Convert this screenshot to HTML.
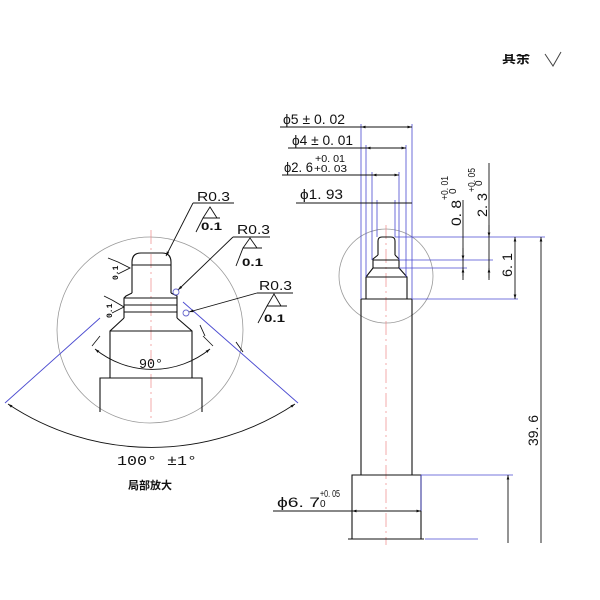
<!DOCTYPE html>
<html><head><meta charset="utf-8"><style>
html,body{margin:0;padding:0;background:#fff;}
svg{display:block;}
text{font-family:"Liberation Sans","Noto Sans CJK SC",sans-serif;fill:#111;}
.m{font-family:"Liberation Mono","Noto Sans CJK SC",monospace;}
</style></head><body>
<svg width="600" height="600" viewBox="0 0 600 600" xmlns="http://www.w3.org/2000/svg">
<defs>
<marker id="a" viewBox="0 0 10 10" refX="10" refY="5" markerWidth="7" markerHeight="5" orient="auto-start-reverse"><path d="M0,2 L10,5 L0,8 z" fill="#111"/></marker>
</defs>
<rect width="600" height="600" fill="#fff"/>
<text x="502" y="63" font-size="14" font-weight="bold">其余</text>
<rect x="495" y="40" width="50" height="14" fill="#fff"/>
<path d="M545,54 L553,66 L561,52" fill="none" stroke="#444" stroke-width="1"/>

<!-- LEFT detail -->
<circle cx="150" cy="330" r="93" fill="none" stroke="#999" stroke-width="0.8"/>
<line x1="151" y1="230" x2="151" y2="420" stroke="#e88" stroke-width="0.7" stroke-dasharray="14,4,2,4"/>
<g fill="none" stroke="#111" stroke-width="1.1">
<path d="M132,293 L132,262 Q132,253 141,253 L162,253 Q171,253 171,262 L171,293"/>
<line x1="132" y1="265" x2="171" y2="265"/>
<path d="M132,293 L126,296 L124,298 L124,318 M171,293 L177,296 L177,318"/>
<line x1="124" y1="298" x2="177" y2="298"/>
<line x1="124" y1="305" x2="177" y2="305"/>
<line x1="124" y1="312" x2="177" y2="312"/>
<path d="M124,318 L110,331 L110,378 M177,318 L192,331 L192,378"/>
<line x1="110" y1="331" x2="192" y2="331"/>
<path d="M100,412 L100,378 L202,378 L202,412"/>
</g>
<g stroke="#4a4ad0" stroke-width="0.9">
<line x1="100" y1="318" x2="5" y2="403"/>
<line x1="183" y1="302" x2="298" y2="403"/>
</g>
<path d="M8,404 A259,259 0 0 0 295,404" fill="none" stroke="#111" stroke-width="0.9" marker-start="url(#a)" marker-end="url(#a)"/>
<path d="M95,349 A91,91 0 0 0 210,349" fill="none" stroke="#111" stroke-width="0.9" marker-start="url(#a)" marker-end="url(#a)"/>
<line x1="92" y1="346" x2="100" y2="336" stroke="#111" stroke-width="0.8"/>
<line x1="213" y1="346" x2="203" y2="336" stroke="#111" stroke-width="0.8"/>
<text x="139" y="368" font-size="14" class="m" textLength="24" lengthAdjust="spacingAndGlyphs">90°</text>
<text x="117" y="465" font-size="14" class="m" textLength="80" lengthAdjust="spacingAndGlyphs">100°  ±1°</text>
<text x="150" y="489" font-size="11" font-weight="bold" text-anchor="middle">局部放大</text>
<g stroke="#111" stroke-width="0.9" fill="none">
<line x1="193" y1="203" x2="234" y2="203"/><line x1="193" y1="203" x2="166" y2="256" marker-end="url(#a)"/>
<path d="M203,218 L210,207 L217,218 M196,232 L203,218 L220,218"/>
<line x1="233" y1="237" x2="270" y2="237"/><line x1="233" y1="237" x2="178" y2="290" marker-end="url(#a)"/>
<path d="M243,248 L250,238 L257,248 M236,266 L243,248 L262,248"/>
<line x1="257" y1="293" x2="293" y2="293"/><line x1="257" y1="293" x2="189" y2="312" marker-end="url(#a)"/>
<path d="M267,306 L274,294 L281,306 M258,323 L267,306 L287,306"/>
<circle cx="176" cy="292" r="3" stroke="#66c"/><circle cx="186" cy="313" r="3" stroke="#66c"/>
<path d="M118,262 L130,268 L118,274 M108,258 L118,262"/>
<path d="M112,300 L124,307 L112,313 M104,296 L112,300"/>
<path d="M200,325 L205,336 M236,342 L243,352"/>
</g>
<g class="m" font-size="13">
<text x="197" y="201" textLength="33" lengthAdjust="spacingAndGlyphs">R0.3</text>
<text x="201" y="230" font-size="11" font-weight="bold" textLength="21" lengthAdjust="spacingAndGlyphs">0.1</text>
<text x="237" y="234" textLength="33" lengthAdjust="spacingAndGlyphs">R0.3</text>
<text x="242" y="266" font-size="11" font-weight="bold" textLength="21" lengthAdjust="spacingAndGlyphs">0.1</text>
<text x="259" y="290" textLength="33" lengthAdjust="spacingAndGlyphs">R0.3</text>
<text x="264" y="322" font-size="11" font-weight="bold" textLength="21" lengthAdjust="spacingAndGlyphs">0.1</text>
</g>
<text x="0" y="0" font-size="8" font-weight="bold" transform="translate(118,280) rotate(-90)" class="m">0.1</text>
<text x="0" y="0" font-size="8" font-weight="bold" transform="translate(112,318) rotate(-90)" class="m">0.1</text>

<!-- RIGHT part -->
<circle cx="386" cy="276" r="47" fill="none" stroke="#999" stroke-width="0.8"/>
<line x1="386" y1="225" x2="386" y2="545" stroke="#e88" stroke-width="0.7" stroke-dasharray="14,4,2,4"/>
<g fill="none" stroke="#111" stroke-width="1.1">
<path d="M378,255 L378,241 Q378,237 382,237 L391,237 Q395,237 395,241 L395,255"/>
<path d="M378,255 L373,259 L373,268 M395,255 L399,259 L399,268"/>
<line x1="373" y1="260" x2="399" y2="260"/><line x1="373" y1="268" x2="399" y2="268"/>
<path d="M373,268 L366,277 L366,299 M399,268 L407,277 L407,299"/>
<line x1="366" y1="277" x2="407" y2="277"/>
<path d="M361,299 L361,475 M412,299 L412,475"/><line x1="361" y1="299" x2="412" y2="299"/>
<path d="M352,539 L352,475 L421,475 L421,539"/>
<line x1="348" y1="539" x2="424" y2="539"/>
</g>
<g stroke="#4a4ad0" stroke-width="0.8">
<line x1="361" y1="124" x2="361" y2="299"/><line x1="412" y1="124" x2="412" y2="299"/>
<line x1="366" y1="145" x2="366" y2="277"/><line x1="406" y1="145" x2="406" y2="277"/>
<line x1="372" y1="172" x2="372" y2="260"/><line x1="399" y1="172" x2="399" y2="260"/>
<line x1="377" y1="200" x2="377" y2="237"/><line x1="395" y1="200" x2="395" y2="237"/>
<line x1="395" y1="237" x2="545" y2="237"/>
<line x1="399" y1="260" x2="493" y2="260"/>
<line x1="399" y1="268" x2="467" y2="268"/>
<line x1="412" y1="299" x2="518" y2="299"/>
<line x1="421" y1="475" x2="513" y2="475"/>
<line x1="421" y1="511" x2="421" y2="475"/>
<line x1="425" y1="539" x2="478" y2="539"/>
</g>
<g stroke="#111" stroke-width="0.9" fill="none">
<line x1="280" y1="127" x2="361" y2="127"/><line x1="361" y1="127" x2="412" y2="127" marker-start="url(#a)" marker-end="url(#a)"/>
<line x1="288" y1="148" x2="366" y2="148"/><line x1="366" y1="148" x2="406" y2="148" marker-start="url(#a)" marker-end="url(#a)"/>
<line x1="282" y1="175" x2="372" y2="175"/><line x1="372" y1="175" x2="399" y2="175" marker-start="url(#a)" marker-end="url(#a)"/>
<line x1="296" y1="203" x2="412" y2="203"/>
<line x1="463" y1="200" x2="463" y2="276"/><line x1="463" y1="248" x2="463" y2="260" marker-end="url(#a)"/><line x1="463" y1="280" x2="463" y2="268" marker-end="url(#a)"/>
<line x1="489" y1="163" x2="489" y2="278"/><line x1="489" y1="225" x2="489" y2="237" marker-end="url(#a)"/><line x1="489" y1="280" x2="489" y2="268" marker-end="url(#a)"/>
<line x1="515" y1="237" x2="515" y2="299" marker-start="url(#a)" marker-end="url(#a)"/>
<line x1="541" y1="237" x2="541" y2="543" marker-start="url(#a)"/>
<line x1="508" y1="475" x2="508" y2="543" marker-start="url(#a)"/>
<line x1="273" y1="511" x2="352" y2="511"/><line x1="352" y1="511" x2="421" y2="511" marker-start="url(#a)" marker-end="url(#a)"/>
</g>
<g class="m" font-size="14">
<text x="283" y="124" textLength="62" lengthAdjust="spacingAndGlyphs">ϕ5 ± 0. 02</text>
<text x="292" y="145" textLength="61" lengthAdjust="spacingAndGlyphs">ϕ4 ± 0. 01</text>
<text x="284" y="172" textLength="29" lengthAdjust="spacingAndGlyphs">ϕ2. 6</text>
<text x="315" y="162" font-size="10" textLength="30" lengthAdjust="spacingAndGlyphs">+0. 01</text>
<text x="314" y="172" font-size="10" textLength="33" lengthAdjust="spacingAndGlyphs">+0. 03</text>
<text x="300" y="199" textLength="43" lengthAdjust="spacingAndGlyphs">ϕ1. 93</text>
<text x="277" y="507" textLength="43" lengthAdjust="spacingAndGlyphs">ϕ6. 7</text>
<text x="320" y="497" font-size="10" textLength="20" lengthAdjust="spacingAndGlyphs">+0. 05</text>
<text x="320" y="507" font-size="10">0</text>
<text transform="translate(461,226) rotate(-90)" textLength="26" lengthAdjust="spacingAndGlyphs">0. 8</text>
<text transform="translate(448,200) rotate(-90)" font-size="10" textLength="24" lengthAdjust="spacingAndGlyphs">+0. 01</text>
<text transform="translate(456,194) rotate(-90)" font-size="10">0</text>
<text transform="translate(487,217) rotate(-90)" textLength="24" lengthAdjust="spacingAndGlyphs">2. 3</text>
<text transform="translate(475,192) rotate(-90)" font-size="10" textLength="24" lengthAdjust="spacingAndGlyphs">+0. 05</text>
<text transform="translate(482,186) rotate(-90)" font-size="10">0</text>
<text transform="translate(512,277) rotate(-90)" textLength="24" lengthAdjust="spacingAndGlyphs">6. 1</text>
<text transform="translate(538,446) rotate(-90)" textLength="31" lengthAdjust="spacingAndGlyphs">39. 6</text>
</g>
</svg>
</body></html>
